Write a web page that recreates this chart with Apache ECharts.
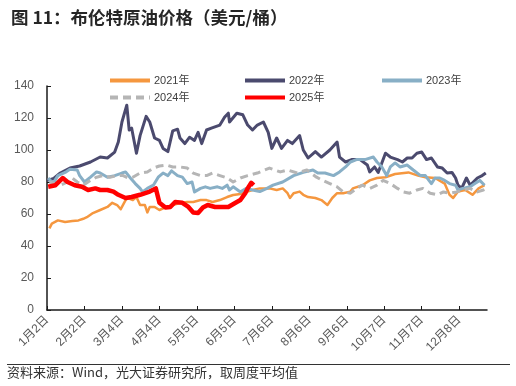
<!DOCTYPE html>
<html>
<head>
<meta charset="utf-8">
<script src="https://cdn.jsdelivr.net/npm/echarts@6/dist/echarts.min.js"></script>
<style>
html,body{margin:0;padding:0;background:#fff;}
#c{width:516px;height:386px;}
</style>
</head>
<body>
<div id="c"></div>
<script>
// x axis: daily categories of a leap-year calendar, Jan 2 .. Dec 31
const monthDays = [31, 29, 31, 30, 31, 30, 31, 31, 30, 31, 30, 31];
const tickLabels = ['1月2日','2月2日','3月4日','4月4日','5月5日','6月5日','7月6日','8月6日','9月6日','10月7日','11月7日','12月8日'];
const yTicks = [0, 20, 40, 60, 80, 100, 120, 140];

// series values: [day index from Jan 2, price]
const s2021 = [[2,51],[4,54],[9,56],[15,55],[21,55.6],[26,56],[30,57],[33,58],[38,60.6],[44,62.5],[50,64.4],[54,67],[58,65.6],[61,63],[65,68.7],[67,70],[71,68.7],[74,70.6],[77,65.6],[81,65.6],[83,61],[85,64.4],[89,64.4],[93,62.5],[99,64.4],[104,65.6],[110,66.9],[116,67.5],[121,67.5],[127,68.7],[132,68.7],[137,67.5],[143,68.7],[149,70.6],[154,71.9],[160,72.5],[165,73.8],[170,75],[176,76],[184,76],[190,75],[195,76],[199,73],[201,70],[204,73],[209,74],[212,72],[216,70.6],[222,70],[227,68.7],[232,65.6],[236,70],[240,73],[245,73],[251,74],[253,76],[261,78],[267,81],[273,82.5],[280,83],[288,85],[299,86],[307,84],[313,83],[321,82.5],[329,79],[333,72],[336,70],[340,74],[346,75],[352,72],[357,76],[362,78]];
const s2022 = [[0,81],[5,82],[11,85.6],[19,88.7],[27,90],[36,92.5],[44,95.6],[50,95],[56,98.7],[59,105],[62,117.5],[66,128],[68,112.5],[70,113.7],[74,98],[77,109],[82,121],[85,117.5],[89,107.5],[93,106],[96,101],[100,99],[104,112],[108,113],[110,107.5],[114,104],[118,108],[122,106],[125,111],[128,104],[132,112.5],[136,113.7],[143,115.6],[147,120.6],[150,123],[151,117.5],[157,123],[162,122],[166,115.6],[170,112.5],[174,115.6],[179,117.5],[183,111],[186,101],[190,107.5],[194,101],[199,106],[203,104],[209,109],[212,100],[216,95],[222,99],[227,95.6],[234,100],[240,105],[242,95.6],[247,92.5],[252,94],[259,94],[265,90.6],[267,86.3],[271,89.4],[274,86],[277,91.9],[280,98],[284,95.6],[290,94],[294,92.5],[298,95],[302,95],[306,98],[310,98.7],[314,94],[318,95],[323,89.4],[327,88.7],[331,85.6],[335,86],[338,82.5],[340,78],[343,76],[347,82.5],[350,78],[356,82.5],[360,84],[363,85.6]];
const s2023 = [[1,82.5],[5,79],[9,84],[15,86],[19,88],[25,87.5],[27,84],[31,80],[36,83],[41,86.3],[44,85.6],[50,83],[56,84],[62,85.6],[65,86.3],[69,82.5],[73,79],[77,76],[79,73.8],[83,76],[88,78],[92,83],[96,85.6],[100,84],[103,87],[108,84],[112,83],[116,79],[120,80],[122,73.8],[127,76],[131,77],[135,76],[141,77],[145,76],[149,78],[151,75],[154,77],[160,73.8],[165,76],[170,75],[176,74],[182,76],[187,78],[195,80],[204,84],[212,86],[220,87.5],[224,85.6],[230,85.6],[237,84],[242,86.3],[247,89.4],[251,92.5],[256,94],[263,94],[270,95.6],[273,92.5],[277,89.4],[281,84],[284,89.4],[288,91.9],[292,89.4],[298,90.6],[303,87.5],[309,84],[313,84],[318,79],[321,82.5],[325,82.5],[329,81],[333,79],[338,78],[340,75],[344,76],[350,77],[354,79],[358,81],[362,78]];
const s2024 = [[2,80],[11,78],[17,80],[21,82.5],[25,80],[30,78],[36,81],[41,83],[46,84],[52,83],[58,84],[63,84],[67,82.5],[71,83],[77,85.6],[83,86.3],[88,88.7],[93,90],[99,90.6],[104,89.4],[110,89.4],[116,88.7],[121,85.6],[127,84],[132,84],[137,85.6],[143,84],[149,82.5],[154,80],[160,82.5],[166,84],[174,85.6],[180,87.5],[184,88.7],[193,86.3],[199,87.5],[207,85.6],[215,87.5],[223,83],[228,81],[234,79],[240,77],[245,73.8],[251,73],[256,76],[261,78],[267,76],[273,78],[278,81],[284,79],[290,76],[295,73.8],[300,73],[306,75],[311,76],[317,73],[323,72],[328,73.8],[333,73],[339,73.8],[344,75],[350,76],[356,73.8],[361,75],[364,76]];
const s2025 = [[1,77],[7,78],[11,81],[13,82.5],[17,80],[23,78],[29,77],[34,75],[40,76],[44,75],[50,75],[55,74],[59,72],[65,70],[70,70.6],[77,72],[85,74],[90,76],[93,67],[98,64],[102,64.4],[106,67.5],[112,67],[117,64.4],[121,61],[125,60.6],[129,64],[133,65.6],[139,64.4],[145,64.4],[150,64.4],[156,67],[160,68.7],[164,73],[166,76],[169,79.5],[171,78]];

const categories = [];
monthDays.forEach((n, m) => {
  for (let d = 1; d <= n; d++) {
    if (m === 0 && d === 1) continue;
    categories.push((m + 1) + '月' + d + '日');
  }
});
const isTick = (i, v) => tickLabels.indexOf(categories[i]) >= 0;

const chart = echarts.init(document.getElementById('c'));
const FONT = '"Liberation Sans", Arial, "Noto Sans CJK SC", sans-serif';
const CJK = '"Noto Sans CJK SC", "Liberation Sans", sans-serif';

const names = ['2021年','2022年','2023年','2024年','2025年'];
const colors = ['#F5973F','#4B4A6E','#88AFC6','#B5B5B5','#FF0000'];
const widths = [2.5, 3, 3, 3, 4.5];
const datas = [s2021, s2022, s2023, s2024, s2025];
const legendPos = [[103,70],[238,70],[375,70],[103,87],[238,87]];

chart.setOption({
  animation: false,
  backgroundColor: '#fff',
  textStyle: { fontFamily: FONT },
  title: {
    text: '图 11：布伦特原油价格（美元/桶）',
    left: 6, top: 4,
    textStyle: { fontFamily: CJK, fontSize: 17.5, fontWeight: 'bold', color: '#262626' }
  },
  legend: names.map((n, i) => ({
    data: [n],
    left: legendPos[i][0], top: legendPos[i][1],
    itemWidth: 40, itemHeight: 12, itemGap: 5,
    selectedMode: false,
    itemStyle: { opacity: 0, borderWidth: 0 },
    lineStyle: { width: 4 },
    textStyle: { fontSize: 11, color: '#404040', fontFamily: FONT, padding: [0,0,0,-1] }
  })),
  grid: { left: 47, right: 29, top: 86, bottom: 76 },
  xAxis: {
    type: 'category',
    data: categories,
    boundaryGap: false,
    axisLine: { lineStyle: { color: '#1a1a1a', width: 1.5 } },
    axisTick: { show: true, inside: true, length: 4, interval: isTick, lineStyle: { color: '#1a1a1a' } },
    axisLabel: { interval: isTick, rotate: 45, fontSize: 12, color: '#595959', margin: 8, fontFamily: FONT },
    splitLine: { show: false }
  },
  yAxis: {
    type: 'value',
    min: yTicks[0], max: yTicks[yTicks.length - 1], interval: 20,
    axisLine: { show: true, lineStyle: { color: '#1a1a1a', width: 1.5 } },
    axisTick: { show: true, inside: true, length: 4, lineStyle: { color: '#1a1a1a' } },
    axisLabel: { fontSize: 12, color: '#595959', margin: 13, fontFamily: FONT },
    splitLine: { show: false }
  },
  series: names.map((n, i) => ({
    name: n,
    type: 'line',
    data: datas[i],
    symbol: 'none',
    silent: true,
    z: 2 + i,
    itemStyle: { color: colors[i] },
    lineStyle: { color: colors[i], width: widths[i], type: i === 3 ? [8, 5] : 'solid', join: 'round' }
  })),
  graphic: [
    { type: 'line', shape: { x1: 7, y1: 364.5, x2: 510, y2: 364.5 }, style: { stroke: '#333', lineWidth: 1 } },
    { type: 'text', left: 7, top: 366, style: { text: '资料来源：Wind，光大证券研究所，取周度平均值', fontSize: 13, fill: '#333', fontFamily: CJK } }
  ]
});
</script>
</body>
</html>
